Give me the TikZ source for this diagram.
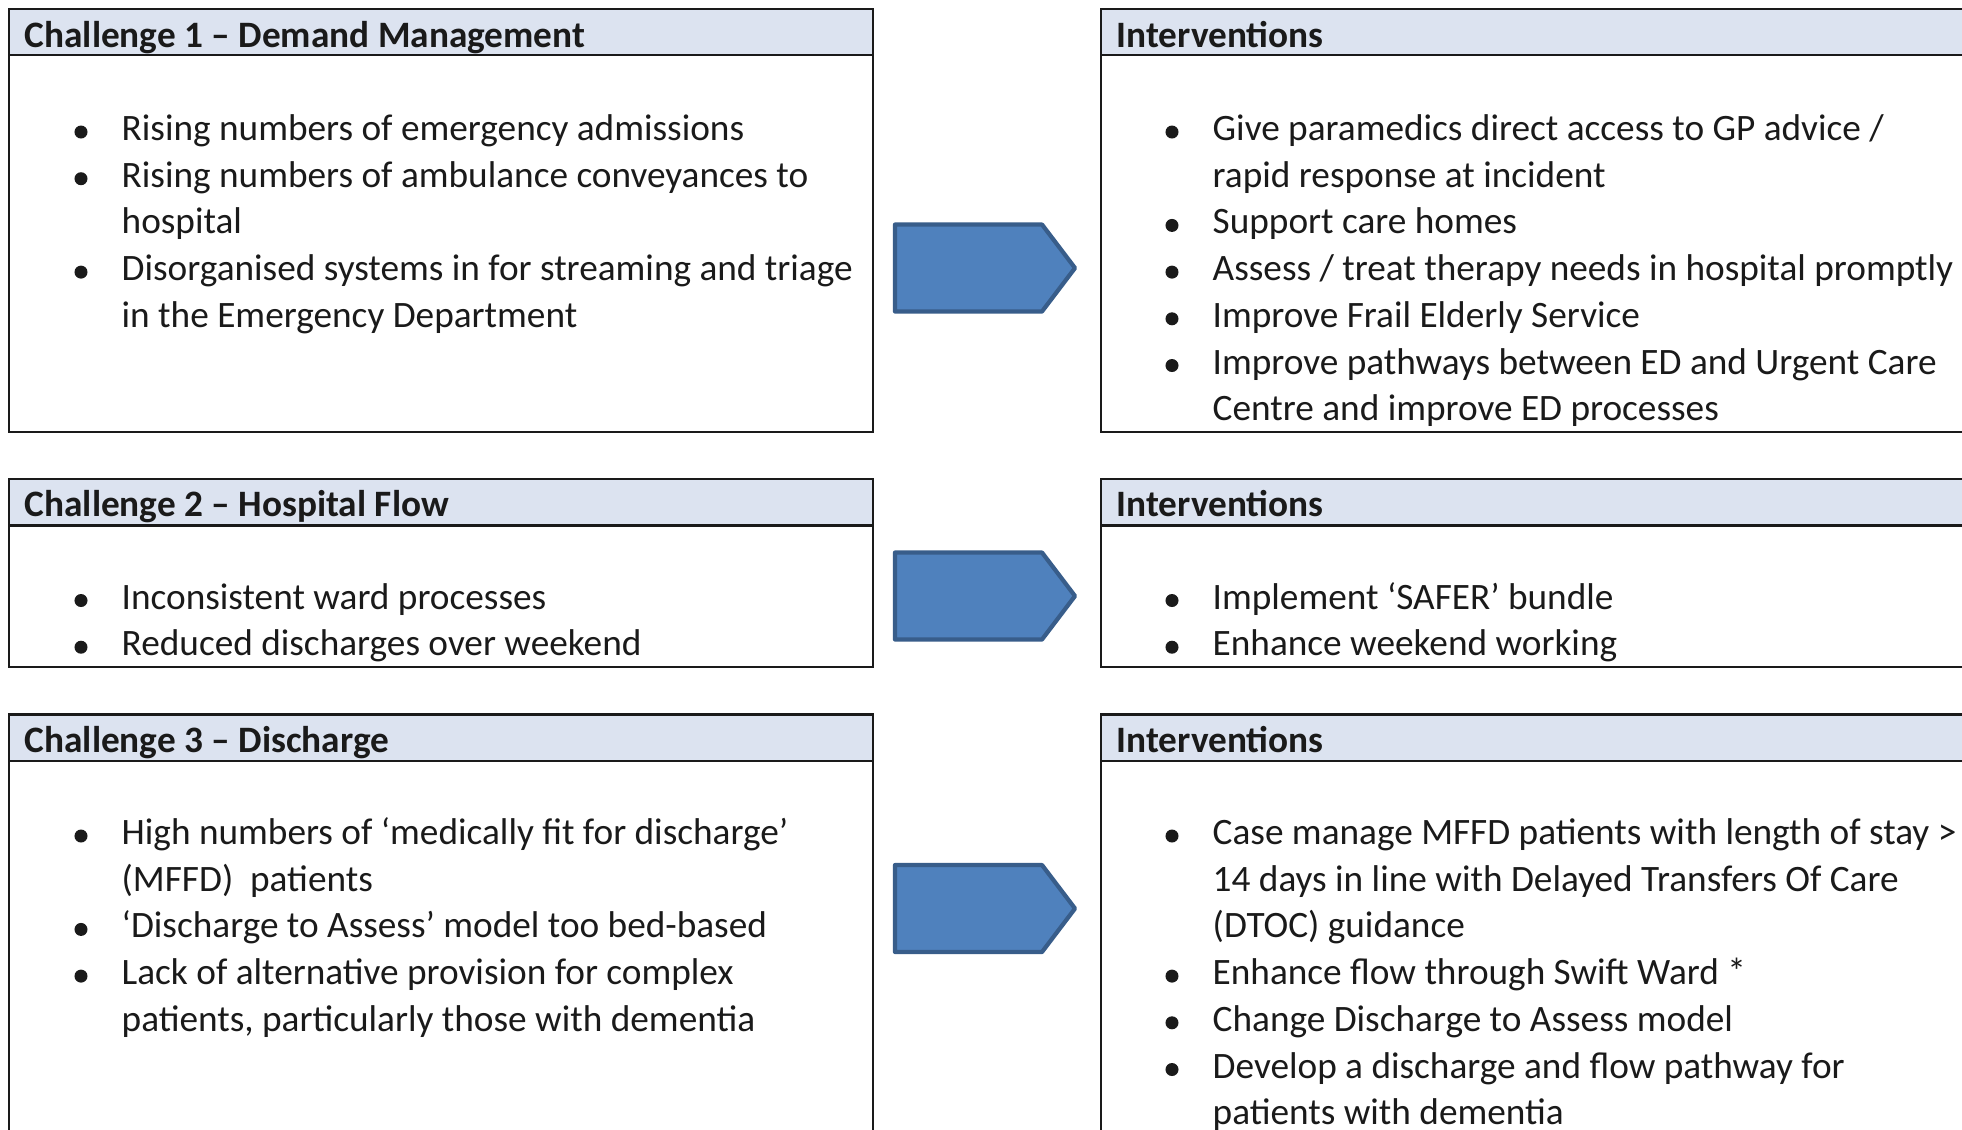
\documentclass[tikz,border=0pt]{standalone}
\usepackage{fontspec}
\setmainfont{Carlito}
\definecolor{headfill}{RGB}{220,227,240}
\definecolor{arrowfill}{RGB}{79,129,189}
\definecolor{arrowline}{RGB}{56,93,138}
\definecolor{ink}{RGB}{26,26,26}
\tikzset{
  frame/.style={draw=ink, line width=0.6pt},
  headtxt/.style={inner sep=0pt, anchor=base west, font=\fontsize{10.6pt}{13pt}\selectfont\bfseries, text=ink},
  txt/.style={inner sep=0pt, anchor=base west, font=\fontsize{10.6pt}{13pt}\selectfont, text=ink},
  blob/.style={fill=ink},
  chevron/.style={fill=arrowfill, draw=arrowline, line width=1.2pt, line join=round}
}
% one bullet line: name, x of text, baseline y, text
\newcommand\bitem[4]{%
  \fill[blob] (#2-40,#3-8.5) circle (1.85pt);
  \node[txt] (#1) at (#2,#3) {#4};}
% continuation line of a bullet
\newcommand\contline[4]{\node[txt] (#1) at (#2,#3) {#4};}
\begin{document}
\begin{tikzpicture}[x=0.01cm, y=-0.01cm]
\useasboundingbox (0,0) rectangle (1962,1129);
\clip (0,0) rectangle (1962,1129);
\fill[white] (0,0) rectangle (1962,1129);

% ---- left column: challenges ----
\fill[headfill] (9,9) rectangle (873,55);
\draw[frame] (9,9) rectangle (873,432);
\draw[frame] (9,55) -- (873,55);
\node[headtxt] (h1) at (24,47.5) {Challenge 1 – Demand Management};
\bitem{a1}{121}{140.5}{Rising numbers of emergency admissions}
\bitem{a2}{121}{187.2}{Rising numbers of ambulance conveyances to}
\contline{a2b}{121}{233.9}{hospital}
\bitem{a3}{121}{280.6}{Disorganised systems in for streaming and triage}
\contline{a3b}{121}{327.3}{in the Emergency Department}

\fill[headfill] (9,479) rectangle (873,525.5);
\draw[frame] (9,479) rectangle (873,667);
\draw[frame] (9,525.5) -- (873,525.5);
\node[headtxt] (h2) at (24,516.5) {Challenge 2 – Hospital Flow};
\bitem{b1}{121}{609}{Inconsistent ward processes}
\bitem{b2}{121}{655.7}{Reduced discharges over weekend}

\fill[headfill] (9,714.5) rectangle (873,761);
\draw[frame] (9,1140) -- (9,714.5) -- (873,714.5) -- (873,1140);
\draw[frame] (9,761) -- (873,761);
\node[headtxt] (h3) at (24,752) {Challenge 3 – Discharge};
\bitem{c1}{121}{844.5}{High numbers of ‘medically fit for discharge’}
\contline{c1b}{121}{891.2}{(MFFD)\ \ patients}
\bitem{c2}{121}{937.9}{‘Discharge to Assess’ model too bed-based}
\bitem{c3}{121}{984.6}{Lack of alternative provision for complex}
\contline{c3b}{121}{1031.3}{patients, particularly those with dementia}

% ---- right column: interventions ----
\fill[headfill] (1101,9) rectangle (1975,55);
\draw[frame] (1975,9) -- (1101,9) -- (1101,432) -- (1975,432);
\draw[frame] (1101,55) -- (1975,55);
\node[headtxt] (i1) at (1116,47.5) {Interventions};
\bitem{d1}{1212}{140.5}{Give paramedics direct access to GP advice /}
\contline{d1b}{1212}{187.2}{rapid response at incident}
\bitem{d2}{1212}{233.9}{Support care homes}
\bitem{d3}{1212}{280.6}{Assess / treat therapy needs in hospital promptly}
\bitem{d4}{1212}{327.3}{Improve Frail Elderly Service}
\bitem{d5}{1212}{374}{Improve pathways between ED and Urgent Care}
\contline{d5b}{1212}{420.7}{Centre and improve ED processes}

\fill[headfill] (1101,479) rectangle (1975,525.5);
\draw[frame] (1975,479) -- (1101,479) -- (1101,667) -- (1975,667);
\draw[frame] (1101,525.5) -- (1975,525.5);
\node[headtxt] (i2) at (1116,516.5) {Interventions};
\bitem{e1}{1212}{609}{Implement ‘SAFER’ bundle}
\bitem{e2}{1212}{655.7}{Enhance weekend working}

\fill[headfill] (1101,714.5) rectangle (1975,761);
\draw[frame] (1975,714.5) -- (1101,714.5) -- (1101,1140);
\draw[frame] (1101,761) -- (1975,761);
\node[headtxt] (i3) at (1116,752) {Interventions};
\bitem{f1}{1212}{844.5}{Case manage MFFD patients with length of stay >}
\contline{f1b}{1212}{891.2}{14 days in line with Delayed Transfers Of Care}
\contline{f1c}{1212}{937.9}{(DTOC) guidance}
\bitem{f2}{1212}{984.6}{Enhance flow through Swift Ward *}
\bitem{f3}{1212}{1031.3}{Change Discharge to Assess model}
\bitem{f4}{1212}{1078}{Develop a discharge and flow pathway for}
\contline{f4b}{1212}{1124.7}{patients with dementia}

% ---- block arrows between the columns ----
\draw[chevron] (895,224.5) -- (1042,224.5) -- (1075,268) -- (1042,311.5) -- (895,311.5) -- cycle;
\draw[chevron] (895,552.5) -- (1042,552.5) -- (1075,596) -- (1042,639.5) -- (895,639.5) -- cycle;
\draw[chevron] (895,865) -- (1042,865) -- (1075,908.5) -- (1042,952) -- (895,952) -- cycle;
\end{tikzpicture}
\end{document}
